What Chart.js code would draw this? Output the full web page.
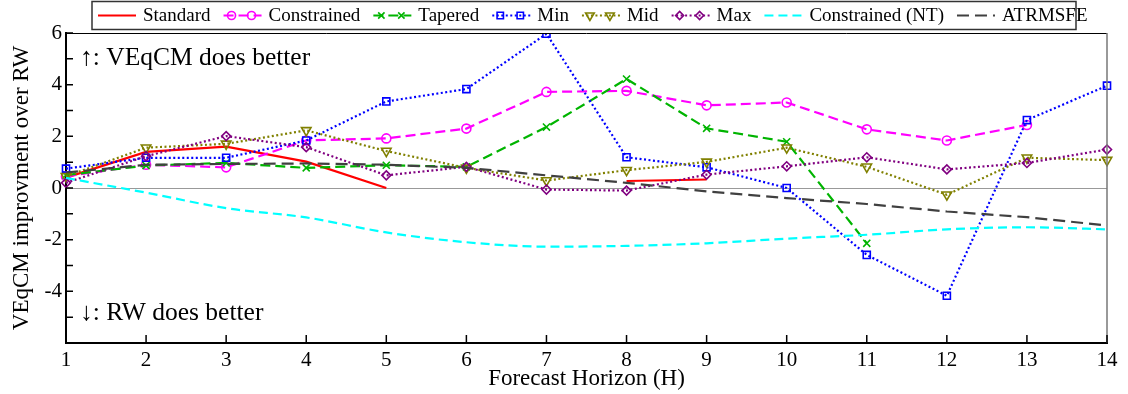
<!DOCTYPE html>
<html>
<head>
<meta charset="utf-8">
<script src="https://cdn.jsdelivr.net/npm/chart.js@4.4.1/dist/chart.umd.min.js"></script>
<style>
  html, body { margin: 0; padding: 0; background: #fff; }
  #wrap { width: 1128px; height: 394px; position: relative; }
</style>
</head>
<body>
<div id="wrap"><canvas id="chart"></canvas></div>
<script>
// Data
const horizons = ['1', '2', '3', '4', '5', '6', '7', '8', '9', '10', '11', '12', '13', '14'];
const standard = [0.4, 1.4, 1.6, 1.02, 0.0, null, null, 0.27, 0.33, null, null, null, null, null];
const constrained = [0.45, 0.9, 0.8, 1.84, 1.92, 2.3, 3.72, 3.76, 3.2, 3.31, 2.27, 1.84, 2.44, null];
const tapered = [0.5, 0.87, 0.97, 0.78, 0.88, 0.82, 2.36, 4.22, 2.31, 1.79, -2.14, null, null, null];
const minModel = [0.75, 1.17, 1.17, 1.84, 3.35, 3.83, 5.97, 1.19, 0.8, 0.0, -2.59, -4.17, 2.63, 3.96];
const midModel = [0.45, 1.56, 1.71, 2.23, 1.43, 0.78, 0.29, 0.69, 1.01, 1.56, 0.82, -0.26, 1.17, 1.08];
const maxModel = [0.2, 1.23, 2.01, 1.58, 0.49, 0.82, -0.06, -0.1, 0.52, 0.84, 1.19, 0.72, 0.97, 1.49];
const constrainedNT = [0.39, -0.18, -0.78, -1.14, -1.72, -2.1, -2.27, -2.24, -2.14, -1.96, -1.81, -1.6, -1.52, -1.6];
const atrmsfe = [0.6, 0.9, 0.93, 0.95, 0.9, 0.78, 0.49, 0.2, -0.13, -0.39, -0.62, -0.91, -1.13, -1.45];
const yTickLabels = [6, 4, 2, 0, -2, -4];

const FONT = '"Liberation Serif", "Times New Roman", serif';
Chart.defaults.font.family = FONT;
Chart.defaults.color = '#000';

function series(label, data, color, dash, pointStyle, extra) {
  return Object.assign({
    label,
    data,
    borderColor: color,
    backgroundColor: 'rgba(0,0,0,0)',
    borderWidth: 2.2,
    borderDash: dash,
    pointStyle: pointStyle || false,
    pointRadius: pointStyle ? 4.5 : 0,
    pointBorderWidth: 1.6,
    pointBorderColor: color,
    pointBackgroundColor: 'rgba(0,0,0,0)',
    spanGaps: false,
    tension: 0
  }, extra || {});
}

const datasets = [
  series('Standard', standard, '#ff0000', [], null),
  series('Constrained', constrained, '#ff00ff', [10, 5], 'circle'),
  series('Tapered', tapered, '#00b400', [10, 5], 'crossRot', { pointRadius: 5 }),
  series('Min', minModel, '#0000ff', [2, 2.5], 'rect', { pointRadius: 5 }),
  series('Mid', midModel, '#808000', [2, 2.5], 'triangle', { pointRotation: 180, pointRadius: 5.5 }),
  series('Max', maxModel, '#800080', [2, 2.5], 'rectRot'),
  series('Constrained (NT)', constrainedNT, '#00ffff', [9, 5], null, { cubicInterpolationMode: 'monotone' }),
  series('ATRMSFE', atrmsfe, '#404040', [12, 6], null)
];
// later series drawn on top, like the original
datasets.forEach((d, i) => { d.order = datasets.length - i; });

// frame, inward ticks, annotations and legend box
const decorPlugin = {
  id: 'decor',
  afterDraw(chart) {
    const { ctx, chartArea: a, scales } = chart;
    ctx.save();
    ctx.setLineDash([]);
    // top and right edges
    ctx.strokeStyle = '#000';
    ctx.lineWidth = 1;
    ctx.beginPath();
    ctx.moveTo(a.left, a.top + 0.5);
    ctx.lineTo(a.right, a.top + 0.5);
    ctx.stroke();
    ctx.strokeStyle = '#777';
    ctx.lineWidth = 1.5;
    ctx.beginPath();
    ctx.moveTo(a.right, a.top);
    ctx.lineTo(a.right, a.bottom);
    ctx.stroke();

    // inward tick marks
    ctx.strokeStyle = '#000';
    ctx.lineWidth = 1.5;
    ctx.beginPath();
    scales.x.ticks.forEach((t, i) => {
      const x = scales.x.getPixelForTick(i);
      ctx.moveTo(x, a.bottom);
      ctx.lineTo(x, a.bottom - 8);
    });
    scales.y.ticks.forEach((t, i) => {
      const y = scales.y.getPixelForTick(i);
      ctx.moveTo(a.left, y);
      ctx.lineTo(a.left + 7, y);
    });
    ctx.stroke();

    // annotations
    ctx.fillStyle = '#000';
    ctx.font = '25.5px ' + FONT;
    ctx.textAlign = 'left';
    ctx.textBaseline = 'alphabetic';
    ctx.fillText('\u2191: VEqCM does better', a.left + 14, a.top + 32);
    ctx.fillText('\u2193: RW does better', a.left + 14, a.bottom - 23);

    // legend
    const boxL = 92, boxR = 1076, boxT = 1.5, boxB = 29.5, midY = 15.5;
    ctx.fillStyle = '#fff';
    ctx.fillRect(boxL, boxT, boxR - boxL, boxB - boxT);
    ctx.strokeStyle = '#333';
    ctx.lineWidth = 1.5;
    ctx.strokeRect(boxL, boxT, boxR - boxL, boxB - boxT);
    ctx.font = '19px ' + FONT;
    ctx.textBaseline = 'middle';
    let x = 98;
    chart.data.datasets.forEach(ds => {
      const w = 38;
      ctx.strokeStyle = ds.borderColor;
      ctx.lineWidth = ds.borderWidth;
      ctx.setLineDash(ds.borderDash || []);
      ctx.beginPath();
      ctx.moveTo(x, midY);
      ctx.lineTo(x + w, midY);
      ctx.stroke();
      ctx.setLineDash([]);
      if (ds.pointStyle) {
        ctx.strokeStyle = ds.borderColor;
        ctx.fillStyle = 'rgba(0,0,0,0)';
        ctx.lineWidth = ds.pointBorderWidth;
        const opts = {
          pointStyle: ds.pointStyle,
          rotation: ds.pointRotation || 0,
          radius: ds.pointRadius - 0.5,
          borderWidth: ds.pointBorderWidth
        };
        Chart.helpers.drawPoint(ctx, opts, x + 8, midY);
        Chart.helpers.drawPoint(ctx, opts, x + 28, midY);
      }
      ctx.fillStyle = '#000';
      const tx = x + w + 7;
      ctx.fillText(ds.label, tx, midY + 1);
      x = tx + ctx.measureText(ds.label).width + 13;
    });
    ctx.restore();
  }
};

new Chart(document.getElementById('chart'), {
  type: 'line',
  data: { labels: horizons, datasets },
  plugins: [decorPlugin],
  options: {
    responsive: true,
    maintainAspectRatio: false,
    animation: false,
    layout: { padding: { top: 33, right: 21, left: 0, bottom: 0 } },
    plugins: { legend: { display: false }, tooltip: { enabled: false } },
    scales: {
      x: {
        offset: false,
        grid: { display: false, drawTicks: false },
        border: { display: true, color: '#000', width: 2 },
        ticks: { font: { size: 21 }, padding: 5, maxRotation: 0, autoSkip: false },
        title: { display: true, text: 'Forecast Horizon (H)', font: { size: 23 }, padding: { top: 0, bottom: 1 } },
        afterFit: s => { s.height = 51; }
      },
      y: {
        min: -6,
        max: 6,
        grid: {
          drawTicks: false,
          color: c => (c.tick && c.tick.value === 0 ? '#999' : 'rgba(0,0,0,0)'),
          lineWidth: 1
        },
        border: { display: true, color: '#000', width: 2 },
        ticks: {
          stepSize: 1,
          autoSkip: false,
          padding: 4,
          font: { size: 21 },
          callback: v => (yTickLabels.includes(v) ? String(v) : '')
        },
        title: { display: true, text: 'VEqCM improvment over RW', font: { size: 23 }, padding: { top: 8, bottom: 0 } },
        afterFit: s => { s.width = 66; }
      }
    }
  }
});
</script>
</body>
</html>
